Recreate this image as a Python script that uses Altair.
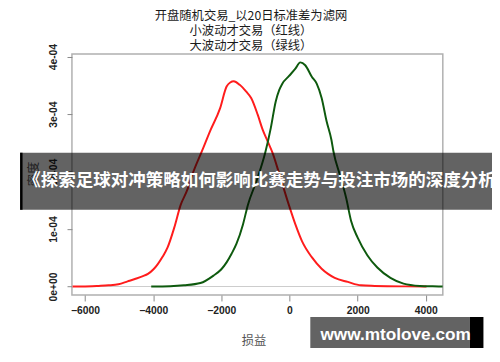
import altair as alt
import pandas as pd

# ---- data ----
red_x = [-6366, -6077, -5600, -5308, -5019, -4750, -4538, -4300, -4154, -3990, -3865, -3720,
         -3577, -3384, -3193, -3000, -2850, -2567, -2327, -2038, -1846, -1740, -1635, -1462,
         -1269, -1125, -933, -788, -644, -500, -270, -19, 173, 366, 654, 943, 1130, 1327,
         1712, 2097, 2500, 2866, 3400, 4020]
red_y = [0.0, 0.0, 0.01e-4, 0.02e-4, 0.04e-4, 0.09e-4, 0.13e-4, 0.18e-4, 0.22e-4, 0.30e-4,
         0.39e-4, 0.52e-4, 0.68e-4, 1.02e-4, 1.42e-4, 1.68e-4, 1.95e-4, 2.36e-4, 2.71e-4,
         3.10e-4, 3.48e-4, 3.55e-4, 3.57e-4, 3.51e-4, 3.39e-4, 3.28e-4, 2.99e-4, 2.73e-4,
         2.53e-4, 2.33e-4, 1.90e-4, 1.42e-4, 1.08e-4, 0.79e-4, 0.51e-4, 0.31e-4, 0.22e-4,
         0.15e-4, 0.08e-4, 0.02e-4, 0.01e-4, 0.005e-4, 0.002e-4, 0.0]

green_x = [-4058, -3500, -3096, -2615, -2230, -2000, -1846, -1700, -1558, -1365, -1221, -960,
           -711, -548, -404, -300, -211, -19, 173, 317, 462, 654, 798, 943, 1087, 1231, 1290,
           1500, 1663, 1808, 2000, 2288, 2577, 2962, 3346, 3827, 4200, 4499]
green_y = [0.0, 0.005e-4, 0.02e-4, 0.06e-4, 0.19e-4, 0.30e-4, 0.42e-4, 0.57e-4, 0.74e-4,
           1.08e-4, 1.42e-4, 1.85e-4, 2.33e-4, 2.76e-4, 3.22e-4, 3.42e-4, 3.53e-4, 3.66e-4,
           3.79e-4, 3.90e-4, 3.85e-4, 3.65e-4, 3.53e-4, 3.28e-4, 2.88e-4, 2.55e-4, 2.35e-4,
           1.90e-4, 1.54e-4, 1.14e-4, 0.85e-4, 0.54e-4, 0.33e-4, 0.15e-4, 0.05e-4, 0.01e-4,
           0.003e-4, 0.0]

series_names = ["小波动才交易", "大波动才交易"]
series_colors = ["#ff1c1c", "#0e5a0e"]

x_ticks = [-6000, -4000, -2000, 0, 2000, 4000]
y_ticks = [0, 1e-4, 2e-4, 3e-4, 4e-4]
y_tick_labels = ["0e+00", "1e-04", "2e-04", "3e-04", "4e-04"]

title_lines = ["开盘随机交易_以20日标准差为滤网", "小波动才交易（红线）", "大波动才交易（绿线）"]
x_title = "损益"
y_title = "密度"
banner_text = "《探索足球对冲策略如何影响比赛走势与投注市场的深度分析》"
watermark_text = "www.mtolove.com"

df = pd.DataFrame({
    "x": red_x + green_x,
    "y": red_y + green_y,
    "s": [series_names[0]] * len(red_x) + [series_names[1]] * len(green_x),
})

label_expr = " : ".join(
    f"datum.value < {v + 0.5e-4} ? '{lab}'" for v, lab in zip(y_ticks[:-1], y_tick_labels[:-1])
) + f" : '{y_tick_labels[-1]}'"

W, H = 377, 245
CJK = "Noto Sans CJK SC"

xs = alt.Scale(domain=[-6384, 4499], nice=False, zero=False)
ys = alt.Scale(domain=[-0.149e-4, 4.045e-4], nice=False, zero=False)

base = alt.Chart(df)

zero_line = alt.Chart(alt.Data(values=[{}])).mark_rule(color="#cccccc", strokeWidth=1).encode(
    y=alt.datum(0, scale=ys)
)

lines = base.mark_line(strokeWidth=2, clip=True, interpolate="monotone").encode(
    x=alt.X("x:Q", scale=xs, title=None,
            axis=alt.Axis(values=x_ticks, tickSize=6, labelPadding=5, format="d")),
    y=alt.Y("y:Q", scale=ys, title=None,
            axis=alt.Axis(values=y_ticks, tickSize=5, labelAngle=270, labelAlign="center",
                          labelBaseline="bottom", labelPadding=9, labelExpr=label_expr)),
    color=alt.Color("s:N", scale=alt.Scale(domain=series_names, range=series_colors), legend=None),
)

def txt(t, x, y, size, color, weight="normal", font=CJK, align="center", angle=0):
    return alt.Chart(alt.Data(values=[{}])).mark_text(
        text=t, font=font, fontSize=size, color=color, fontWeight=weight,
        align=align, baseline="middle", angle=angle
    ).encode(x=alt.value(x), y=alt.value(y))

def box(x1, x2, y1, y2, color, opacity=1.0):
    return alt.Chart(alt.Data(values=[{}])).mark_rect(color=color, opacity=opacity).encode(
        x=alt.value(x1), x2=alt.value(x2), y=alt.value(y1), y2=alt.value(y2)
    )

layers = [zero_line, lines]
# titles
for line, yy in zip(title_lines, [-38.2, -23.2, -7.7]):
    layers.append(txt(line, 182, yy, 12.5, "#1a1a1a"))
layers.append(txt(x_title, 185, 291.5, 12.5, "#555555"))
layers.append(txt(y_title, -39, 122, 12.5, "#555555", angle=270))
# banner overlay
layers.append(box(-52.7, 427.3, 100.3, 158.3, "#000000", 0.61))
layers.append(box(-52.7, -50.2, 100.3, 158.3, "#000000", 1.0))
layers.append(txt(banner_text, -49.5, 129.5, 17.8, "#ffffff", weight="bold", align="left"))
# watermark
layers.append(box(242.3, 404.3, 267.3, 301.3, "#636363", 1.0))
layers.append(box(404.3, 418.3, 267.3, 301.3, "#000000", 1.0))
layers.append(txt(watermark_text, 329, 285.5, 17.5, "#ffffff", weight="bold", font="Liberation Sans"))

chart = alt.layer(*layers).properties(
    width=W, height=H, autosize="none",
    padding={"left": 65, "top": 44, "right": 50, "bottom": 51},
).configure_view(
    stroke="#b0b0b0", strokeWidth=1.5
).configure_axis(
    domain=False, grid=False, tickColor="#888888", labelFont="Liberation Sans",
    labelFontWeight="bold", labelFontSize=10.5, labelColor="#222222"
)

chart.save("out.html", embed_options={"renderer": "svg", "actions": False})
